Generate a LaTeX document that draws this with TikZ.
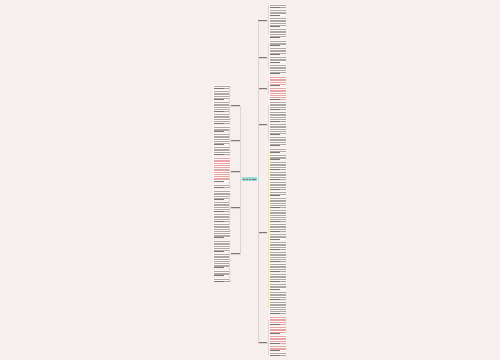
\documentclass[tikz,border=0pt]{standalone}
\usetikzlibrary{positioning}

\definecolor{bgpink}{HTML}{F7EEEE}
\definecolor{txtgray}{HTML}{ADA7A7}
\definecolor{txtdark}{HTML}{7D7777}
\definecolor{txtred}{HTML}{E8A4A4}
\definecolor{linebeige}{HTML}{DDD3CF}
\definecolor{lineyellow}{HTML}{F1E5B8}
\definecolor{rootteal}{HTML}{9ADAD7}
\definecolor{blkwhite}{HTML}{FCF9F9}

\tikzset{
  blk/.style={fill=blkwhite, inner sep=0, minimum width=17pt},
  lbl/.style={inner sep=0, minimum width=9pt, minimum height=2.4pt},
  conn/.style={draw=linebeige, line width=0.45pt},
  row/.style={line width=0.55pt},
}

\begin{document}
\begin{tikzpicture}[x=1pt, y=-1pt]

  \fill[bgpink] (0,0) rectangle (500,360);
  \useasboundingbox (0,0) rectangle (500,360);

  % root
  \node[fill=rootteal, minimum width=15pt, minimum height=4pt, inner sep=0] (root) at (249.5,179) {};
  \draw[txtdark, line width=0.8pt, dash pattern=on 2.2pt off 0.7pt]
    ([xshift=1pt]root.west) -- ([xshift=-1pt]root.east);

  % right column text blocks
  \foreach \t/\b/\c [count=\i] in {4/8/txtgray, 9/16/txtgray, 17/27/txtgray, 28/38/txtgray,
      40/46/txtgray, 47/55/txtgray, 56/63/txtgray, 64/74/txtgray,
      76/86/txtred, 87/100/txtred,
      101/110/txtgray, 111/122/txtgray, 123/135/txtgray, 136/146/txtgray,
      148/153/txtgray, 154/160/txtgray, 161/170/txtgray, 171/180/txtgray, 181/190/txtgray,
      191/196/txtgray, 197/208/txtgray, 209/222/txtgray, 223/232/txtgray, 233/240/txtgray,
      241/250/txtgray, 251/262/txtgray, 263/272/txtgray, 273/282/txtgray, 283/290/txtgray,
      291/300/txtgray, 301/314/txtgray,
      316/325/txtred, 326/334/txtred, 335/344/txtred, 345/351/txtred, 352/356/txtgray} {
    \pgfmathsetmacro\yc{(\t+\b)/2}
    \pgfmathsetmacro\hh{\b-\t}
    \node[blk, minimum height=\hh pt] (r\i) at (277.5,\yc) {};
    \pgfmathsetmacro\ys{\t+1.1}
    \pgfmathsetmacro\yn{\t+2.9}
    \pgfmathsetmacro\ye{\b-0.6}
    \foreach \yy in {\ys,\yn,...,\ye}
      \draw[\c, row] (270,\yy) -- (285.5,\yy);
    \draw[txtdark, row] (270,\ye) -- (280,\ye);
  }

  % left column text blocks
  \foreach \t/\b/\c [count=\i] in {85/89/txtgray, 90/100/txtgray, 101/112/txtgray, 113/124/txtgray,
      126/132/txtgray, 133/145/txtgray, 146/155/txtgray,
      157/182/txtred, 184/188/txtgray,
      190/200/txtgray, 201/212/txtgray, 213/222/txtgray, 223/238/txtgray,
      240/252/txtgray, 253/268/txtgray, 270/276/txtgray, 278/282/txtgray} {
    \pgfmathsetmacro\yc{(\t+\b)/2}
    \pgfmathsetmacro\hh{\b-\t}
    \node[blk, minimum height=\hh pt] (l\i) at (221.5,\yc) {};
    \pgfmathsetmacro\ys{\t+1.1}
    \pgfmathsetmacro\yn{\t+2.9}
    \pgfmathsetmacro\ye{\b-0.6}
    \foreach \yy in {\ys,\yn,...,\ye}
      \draw[\c, row] (214,\yy) -- (229.5,\yy);
    \draw[txtdark, row] (214,\ye) -- (224,\ye);
  }

  % branch labels
  \foreach \y [count=\i] in {20,57,88,124,232,342} {
    \node[lbl] (rl\i) at (262.5,\y) {};
    \draw[txtdark, row] ([xshift=0.5pt]rl\i.west) -- ([xshift=-0.5pt]rl\i.east);
    \draw[conn] (rl\i.south west) -- (rl\i.south east);
  }
  \foreach \y [count=\i] in {105,140,171,207,253} {
    \node[lbl] (ll\i) at (235.5,\y) {};
    \draw[txtdark, row] ([xshift=0.5pt]ll\i.west) -- ([xshift=-0.5pt]ll\i.east);
    \draw[conn] (ll\i.south west) -- (ll\i.south east);
  }

  % root to labels
  \foreach \i in {1,...,6}
    \draw[conn] (root.east) -- ++(1pt,0) |- (rl\i.south west);
  \foreach \i in {1,...,5}
    \draw[conn] (root.west) -- ++(-1.5pt,0) |- (ll\i.south east);

  % labels to text blocks
  \foreach \l/\a/\z/\c in {1/1/4/linebeige, 2/5/8/linebeige, 3/9/10/linebeige,
      4/11/14/linebeige, 5/15/31/lineyellow, 6/32/36/linebeige}
    \foreach \k in {\a,...,\z}
      \draw[conn, draw=\c] (rl\l.south east) -- ++(1.2pt,0) |- (r\k.west);
  \foreach \l/\a/\z in {1/1/4, 2/5/7, 3/8/9, 4/10/13, 5/14/17}
    \foreach \k in {\a,...,\z}
      \draw[conn] (ll\l.south west) -- ++(-1.2pt,0) |- (l\k.east);

\end{tikzpicture}
\end{document}
